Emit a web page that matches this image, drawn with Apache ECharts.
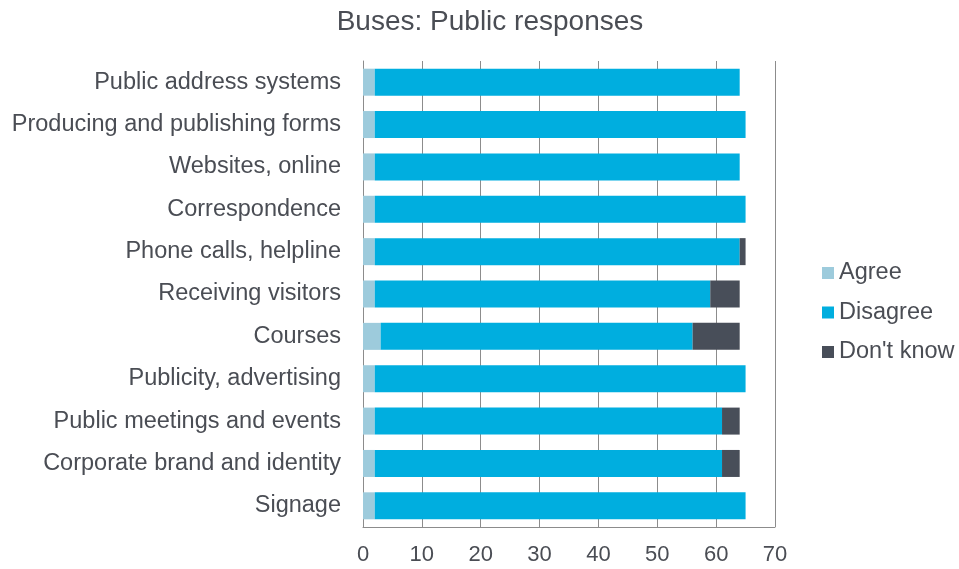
<!DOCTYPE html>
<html>
<head>
<meta charset="utf-8">
<script src="https://cdn.jsdelivr.net/npm/echarts@6/dist/echarts.min.js"></script>
<style>
  html, body { margin: 0; padding: 0; background: #fff; }
  #chart { width: 959px; height: 569px; }
</style>
</head>
<body>
<div id="chart"></div>
<script>
// Survey categories, listed top to bottom
const categories = [
  'Public address systems',
  'Producing and publishing forms',
  'Websites, online',
  'Correspondence',
  'Phone calls, helpline',
  'Receiving visitors',
  'Courses',
  'Publicity, advertising',
  'Public meetings and events',
  'Corporate brand and identity',
  'Signage'
];

// Response counts per category
const agree    = [2, 2, 2, 2, 2, 2, 3, 2, 2, 2, 2];
const disagree = [62, 63, 62, 63, 62, 57, 53, 63, 59, 59, 63];
const dontKnow = [0, 0, 0, 0, 1, 5, 8, 0, 3, 3, 0];

const xTicks = { min: 0, max: 70, interval: 10 };

const textColor = '#4a4d54';
const font = 'Liberation Sans, Arial, sans-serif';

const chart = echarts.init(document.getElementById('chart'));

function series(name, data, color) {
  return {
    name: name,
    type: 'bar',
    stack: 'total',
    data: data,
    barWidth: 27,
    itemStyle: { color: color },
    emphasis: { disabled: true }
  };
}

chart.setOption({
  animation: false,
  backgroundColor: '#ffffff',
  title: {
    text: 'Buses: Public responses',
    left: 485,
    textAlign: 'center',
    top: 3,
    textStyle: { color: textColor, fontFamily: font, fontSize: 28, fontWeight: 'normal' }
  },
  legend: {
    orient: 'vertical',
    left: 822,
    top: 261,
    padding: 0,
    itemWidth: 12,
    itemHeight: 12,
    itemGap: 15.5,
    icon: 'rect',
    textStyle: { color: textColor, fontFamily: font, fontSize: 23.5, lineHeight: 24 },
    data: ['Agree', 'Disagree', "Don't know"]
  },
  grid: { left: 363, top: 61, width: 412, height: 466, containLabel: false },
  xAxis: {
    type: 'value',
    min: xTicks.min,
    max: xTicks.max,
    interval: xTicks.interval,
    axisLine: { show: true, lineStyle: { color: '#8c8c8c' } },
    axisTick: { show: false },
    splitLine: { show: true, lineStyle: { color: '#8c8c8c', width: 1 } },
    axisLabel: { color: textColor, fontFamily: font, fontSize: 22, margin: 17 }
  },
  yAxis: {
    type: 'category',
    inverse: true,
    data: categories,
    axisLine: { show: true, lineStyle: { color: '#8c8c8c' } },
    axisTick: { show: false },
    axisLabel: { color: textColor, fontFamily: font, fontSize: 23.5, margin: 22 }
  },
  series: [
    series('Agree', agree, '#9dcbdc'),
    series('Disagree', disagree, '#00aedf'),
    series("Don't know", dontKnow, '#484e59')
  ]
});
</script>
</body>
</html>
